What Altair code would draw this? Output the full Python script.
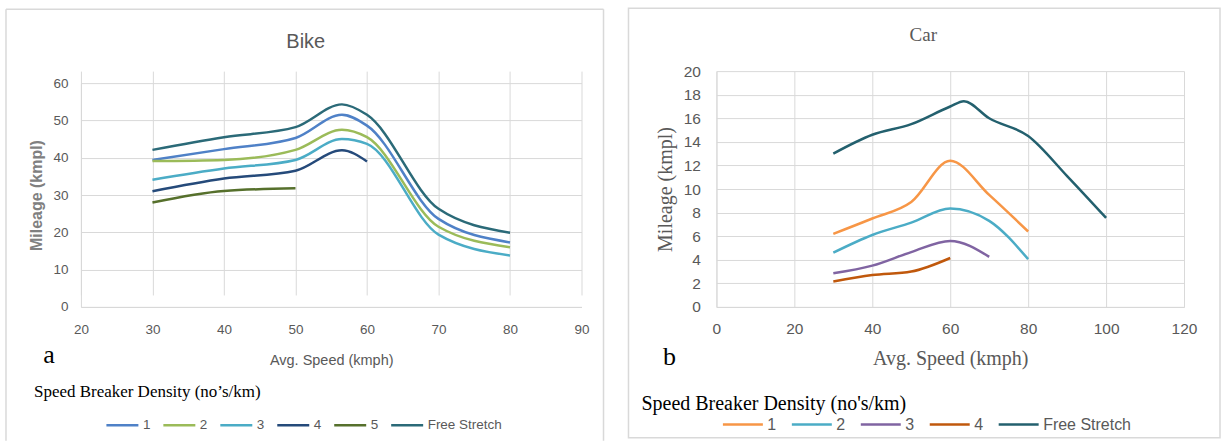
import altair as alt
import pandas as pd

# ---------------- data ----------------
bike_series = ["1", "2", "3", "4", "5", "Free Stretch"]
bike_colors = ["#4f81c7", "#9bbb59", "#4bacc6", "#254a7a", "#56702c", "#2b6a78"]
bike_speed = [30, 40, 50, 56.5, 60, 70, 80]
bike_1 = [39.4, 42.3, 45.3, 51.5, 48.6, 23.6, 17.3]
bike_2 = [39.1, 39.4, 42.1, 47.5, 45.5, 21.5, 16.0]
bike_3 = [34.1, 37.1, 39.4, 45.0, 43.7, 19.4, 13.8]
bike_4 = [31.0, 34.4, 36.5, 42.0, 39.0]
bike_5 = [28.0, 31.1, 31.8]
bike_free = [42.1, 45.5, 48.2, 54.3, 51.5, 26.3, 19.9]

car_series = ["1", "2", "3", "4", "Free Stretch"]
car_colors = ["#f79646", "#4bacc6", "#8064a2", "#c0580c", "#23606e"]
car_speed = [30, 40, 50, 60, 70, 80]
car_1 = [6.2, 7.5, 8.9, 12.4, 9.5, 6.4]
car_2 = [4.6, 6.1, 7.15, 8.35, 7.3, 4.05]
car_3 = [2.85, 3.5, 4.65, 5.6, 4.25]
car_4 = [2.15, 2.7, 3.0, 4.15]
car_free_speed = [30, 40, 50, 60, 63.5, 70, 80, 90, 100]
car_free = [13.0, 14.6, 15.5, 17.0, 17.45, 16.0, 14.5, 11.1, 7.55]

bike_ticks_x = [20, 30, 40, 50, 60, 70, 80, 90]
bike_ticks_y = [0, 10, 20, 30, 40, 50, 60]
car_ticks_x = [0, 20, 40, 60, 80, 100, 120]
car_ticks_y = [0, 2, 4, 6, 8, 10, 12, 14, 16, 18, 20]

bike_title = "Bike"
car_title = "Car"
x_title = "Avg. Speed (kmph)"
y_title = "Mileage (kmpl)"
bike_legend_heading = "Speed Breaker Density (no\u2019s/km)"
car_legend_heading = "Speed Breaker Density (no's/km)"
bike_letter = "a"
car_letter = "b"


def long_table(pairs):
    rows = []
    for name, xs, ys in pairs:
        for xv, yv in zip(xs, ys):
            rows.append({"series": name, "speed": xv, "mileage": yv})
    return pd.DataFrame(rows)


bike_df = long_table([
    ("1", bike_speed, bike_1), ("2", bike_speed, bike_2), ("3", bike_speed, bike_3),
    ("4", bike_speed, bike_4), ("5", bike_speed, bike_5), ("Free Stretch", bike_speed, bike_free),
])
car_df = long_table([
    ("1", car_speed, car_1), ("2", car_speed, car_2), ("3", car_speed, car_3),
    ("4", car_speed, car_4), ("Free Stretch", car_free_speed, car_free),
])

SANS = "Liberation Sans"
SERIF = "Liberation Serif"
GRAY = "#595959"
GRID = "#d9d9d9"
BORDER = "#d9d9d9"


def text_layer(label, x, y, font, size, align="left", color="#000000"):
    return alt.Chart(pd.DataFrame({"t": [label]})).mark_text(
        font=font, fontSize=size, align=align, baseline="middle", color=color
    ).encode(text="t:N", x=alt.value(x), y=alt.value(y))


def rule_layer(**kw):
    return alt.Chart(pd.DataFrame({"k": [0]})).mark_rule(color=BORDER, strokeWidth=1.5).encode(**kw)


# ---------------- Bike panel ----------------
BW, BH = 501, 236
bike_lines = alt.Chart(bike_df).mark_line(interpolate="monotone", strokeWidth=2.5).encode(
    x=alt.X("speed:Q", scale=alt.Scale(domain=[20, 90], nice=False, zero=False),
            axis=alt.Axis(values=bike_ticks_x, title=x_title, grid=True, gridColor=GRID,
                          domainColor=GRID, ticks=False, labelFlush=False, labelFont=SANS,
                          labelFontSize=13.5, labelColor=GRAY, labelPadding=16, titleFont=SANS,
                          titleFontSize=14.5, titleColor=GRAY, titleFontWeight="normal",
                          titlePadding=17)),
    y=alt.Y("mileage:Q", scale=alt.Scale(domain=[0, 60], range=[236, 12], nice=False),
            axis=alt.Axis(values=bike_ticks_y, title=y_title, grid=True, gridColor=GRID,
                          domainColor=GRID, ticks=False, labelFlush=False, labelFont=SANS,
                          labelFontSize=13.5, labelColor=GRAY, labelPadding=13, titleFont=SANS,
                          titleFontSize=16, titleColor="#808080", titleFontWeight="bold",
                          titlePadding=8, titleY=124)),
    color=alt.Color("series:N", scale=alt.Scale(domain=bike_series, range=bike_colors),
                    legend=alt.Legend(title=None, orient="none", legendX=24, legendY=337,
                                      direction="horizontal", columns=6, symbolType="stroke",
                                      symbolSize=1024, symbolStrokeWidth=2.5, labelFont=SANS,
                                      labelFontSize=13.5, labelColor=GRAY, labelOffset=3,
                                      columnPadding=7, padding=0)),
)

bike = alt.layer(
    rule_layer(x=alt.value(-75), x2=alt.value(523), y=alt.value(-62)),
    rule_layer(x=alt.value(-75), y=alt.value(-62), y2=alt.value(370)),
    rule_layer(x=alt.value(523), y=alt.value(-62), y2=alt.value(370)),
    bike_lines,
    text_layer(bike_title, 225, -29, SANS, 20, align="center", color=GRAY),
    text_layer(bike_letter, -32, 284, SERIF, 26, align="center"),
    text_layer(bike_legend_heading, -47, 321, SERIF, 17),
).properties(width=BW, height=BH)

# ---------------- Car panel ----------------
CW, CH = 468, 236
car_lines = alt.Chart(car_df).mark_line(interpolate="monotone", strokeWidth=2.5).encode(
    x=alt.X("speed:Q", scale=alt.Scale(domain=[0, 120], nice=False, zero=False),
            axis=alt.Axis(values=car_ticks_x, title=x_title, grid=True, gridColor=GRID,
                          domainColor=GRID, ticks=False, labelFlush=False, labelFont=SANS,
                          labelFontSize=15.5, labelColor=GRAY, labelPadding=15, titleFont=SERIF,
                          titleFontSize=20, titleColor=GRAY, titleFontWeight="normal",
                          titlePadding=11)),
    y=alt.Y("mileage:Q", scale=alt.Scale(domain=[0, 20], nice=False),
            axis=alt.Axis(values=car_ticks_y, title=y_title, grid=True, gridColor=GRID,
                          domainColor=GRID, ticks=False, labelFlush=False, labelFont=SANS,
                          labelFontSize=15.5, labelColor=GRAY, labelPadding=16, titleFont=SERIF,
                          titleFontSize=20, titleColor=GRAY, titleFontWeight="normal",
                          titlePadding=8)),
    color=alt.Color("series:N", scale=alt.Scale(domain=car_series, range=car_colors),
                    legend=alt.Legend(title=None, orient="none", legendX=5, legendY=332,
                                      direction="horizontal", columns=5, symbolType="stroke",
                                      symbolSize=1600, symbolStrokeWidth=2.5, labelFont=SANS,
                                      labelFontSize=16, labelColor=GRAY, labelOffset=3,
                                      columnPadding=10, padding=0)),
)

car = alt.layer(
    alt.Chart(pd.DataFrame({"k": [0]})).mark_rect(fillOpacity=0, stroke=BORDER, strokeWidth=1.5).encode(
        x=alt.value(-88), x2=alt.value(504), y=alt.value(-63), y2=alt.value(367)),
    car_lines,
    text_layer(car_title, 207, -36, SERIF, 19, align="center", color=GRAY),
    text_layer(car_letter, -47, 286, SERIF, 26, align="center"),
    text_layer(car_legend_heading, -75, 333, SERIF, 20),
).properties(width=CW, height=CH)

chart = alt.hconcat(bike, car, spacing=23).resolve_scale(color="independent").properties(
    padding={"left": 5, "top": 7, "right": 0, "bottom": 0},
    background="white",
).configure_view(strokeWidth=0)

chart.save("out.html", embed_options={"renderer": "svg", "actions": False})
